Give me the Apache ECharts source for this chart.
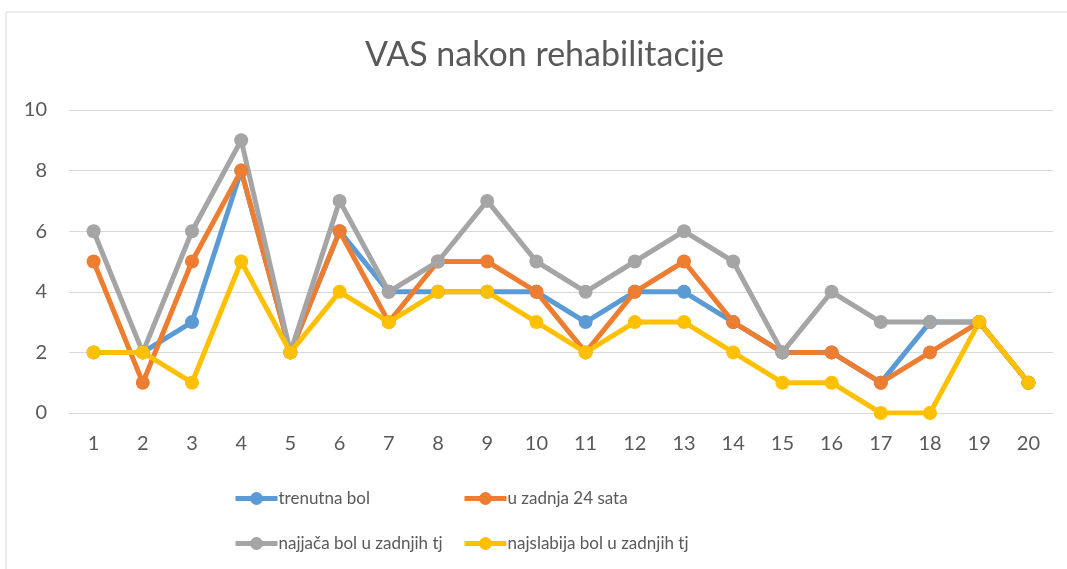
<!DOCTYPE html>
<html>
<head>
<meta charset="utf-8">
<script src="https://cdn.jsdelivr.net/npm/echarts@6/dist/echarts.min.js"></script>
<style>
  html, body { margin: 0; padding: 0; background: #fff; }
  #main { width: 1067px; height: 569px; }
</style>
</head>
<body>
<div id="main"></div>
<script>
const categories = ['1','2','3','4','5','6','7','8','9','10','11','12','13','14','15','16','17','18','19','20']
const seriesNames = ['trenutna bol', 'u zadnja 24 sata', 'najjača bol u zadnjih tj', 'najslabija bol u zadnjih tj']
const trenutna = [2, 2, 3, 8, 2, 6, 4, 4, 4, 4, 3, 4, 4, 3, 2, 2, 1, 3, 3, 1]
const zadnja24 = [5, 1, 5, 8, 2, 6, 3, 5, 5, 4, 2, 4, 5, 3, 2, 2, 1, 2, 3, 1]
const najjaca = [6, 2, 6, 9, 2, 7, 4, 5, 7, 5, 4, 5, 6, 5, 2, 4, 3, 3, 3, 1]
const najslabija = [2, 2, 1, 5, 2, 4, 3, 4, 4, 3, 2, 3, 3, 2, 1, 1, 0, 0, 3, 1]
const colors = ['#5B9BD5', '#ED7D31', '#A5A5A5', '#FFC000']

var myChart = echarts.init(document.getElementById('main'))

const fontFam = 'Lato, "Open Sans", sans-serif'

function makeSeries(name, data, color) {
    return {
        name: name,
        type: 'line',
        data: data,
        symbol: 'circle',
        symbolSize: 14,
        lineStyle: { width: 5, color: color },
        itemStyle: { color: color },
        emphasis: { disabled: true },
        animation: false
    }
}

// one legend per entry so the two columns line up like in the original
const legendPos = [
    { left: 233, top: 490 },
    { left: 462, top: 490 },
    { left: 233, top: 535 },
    { left: 462, top: 535 }
]

option = {
    color: colors,
    title: {
        text: 'VAS nakon rehabilitacije',
        left: 360,
        top: 33,
        textStyle: { fontFamily: fontFam, fontSize: 34, fontWeight: 'normal', color: '#595959' }
    },
    legend: seriesNames.map((n, i) => ({
        data: [n],
        left: legendPos[i].left,
        top: legendPos[i].top,
        itemWidth: 42,
        itemHeight: 16,
        itemGap: 0,
        padding: 0,
        selectedMode: false,
        lineStyle: { width: 5 },
        textStyle: { fontFamily: fontFam, fontSize: 17, color: '#595959', padding: [0, 0, 0, -4] }
    })),
    grid: { left: 69, right: 14, top: 110, bottom: 156 },
    xAxis: {
        type: 'category',
        data: categories,
        boundaryGap: true,
        axisLine: { lineStyle: { color: '#d9d9d9', width: 1 } },
        axisTick: { show: false },
        axisLabel: { fontFamily: fontFam, fontSize: 20, color: '#595959', margin: 21 }
    },
    yAxis: {
        type: 'value',
        min: 0,
        max: 10,
        interval: 2,
        axisLine: { show: false },
        axisTick: { show: false },
        splitLine: { lineStyle: { color: '#d9d9d9', width: 1 } },
        axisLabel: { fontFamily: fontFam, fontSize: 20, color: '#595959', margin: 22 }
    },
    graphic: [{
        type: 'rect',
        shape: { x: 6, y: 12, width: 1200, height: 700 },
        style: { fill: 'none', stroke: '#d9d9d9', lineWidth: 1 },
        silent: true,
        z: -1
    }],
    series: [
        makeSeries(seriesNames[0], trenutna, colors[0]),
        makeSeries(seriesNames[1], zadnja24, colors[1]),
        makeSeries(seriesNames[2], najjaca, colors[2]),
        makeSeries(seriesNames[3], najslabija, colors[3])
    ]
}

myChart.setOption(option)
</script>
</body>
</html>
